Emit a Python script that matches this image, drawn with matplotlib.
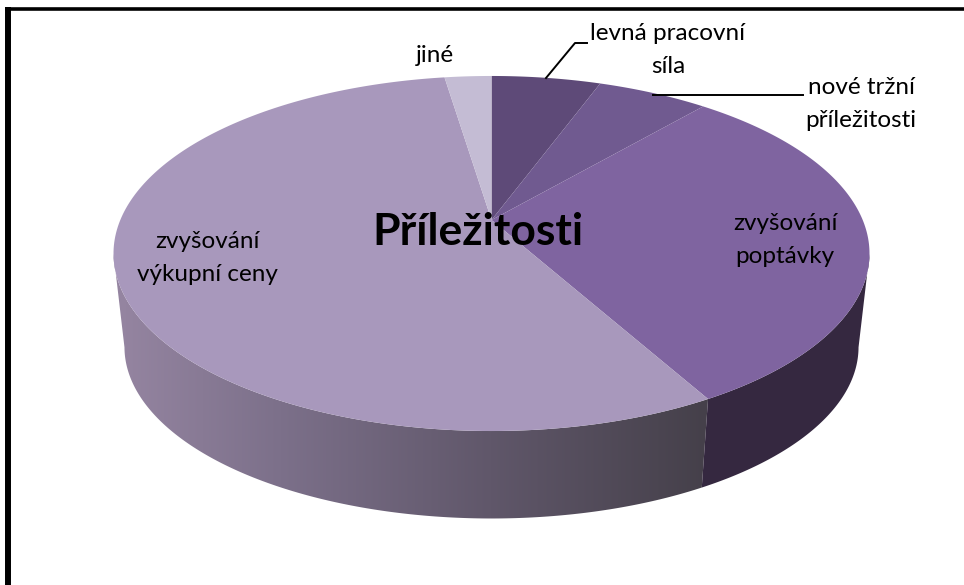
#!/usr/bin/python3

import numpy as np
import matplotlib
matplotlib.use('Agg')
import matplotlib.pyplot as plt
from matplotlib.patches import Polygon

plt.rcParams['font.family'] = ['Lato', 'DejaVu Sans']

# percent shares, clockwise from twelve o'clock
categories = ['levná pracovní\nsíla', 'nové tržní\npříležitosti', 'zvyšování\npoptávky',
              'zvyšování\nvýkupní ceny', 'jiné']
values = [5.6, 5.7, 30.6, 55.7, 2.4]
colors = ['#5e4a78', '#705a90', '#7f64a0', '#a898bc', '#c4bcd4']
title = 'Příležitosti'

# wall shading
wall_x = [125, 280, 490, 705]
wall_rgb = np.array([[0x94, 0x84, 0xa0], [0x7c, 0x70, 0x8a], [0x60, 0x57, 0x6a], [0x45, 0x40, 0x4a]]) / 255
dark_wall = '#352840'


def project(theta):
    """
    Top surface of the disc in perspective, theta in degrees clockwise from the top
    """
    t = np.radians(theta)
    X = np.sin(t)
    Y = -np.cos(t)
    w = 1 - 0.1887 * Y
    return 491.5 + 371.2 * X / w, 220 + 171.2 * Y / w


def project_low(theta):
    x, y = project(theta)
    return 491.5 + (x - 491.5) * 0.971, 347 + (y - 253.5) * 0.966


def wall_outline(a, b):
    ths = np.linspace(a, b, 200)
    x1, y1 = project(ths)
    x2, y2 = project_low(ths)
    return np.c_[np.r_[x2, x1[::-1]], np.r_[y2, y1[::-1]]]


fig = plt.figure(figsize=(9.64, 5.85), dpi=100)
ax = fig.add_axes([0, 0, 1, 1])

edges = np.concatenate([[0], np.cumsum(values)]) * 360 / np.sum(values)

# walls first, top surface goes over them
xs = np.arange(100, 720)
shade = np.stack([np.interp(xs, wall_x, wall_rgb[:, i]) for i in range(3)], axis=-1)[np.newaxis, :, :]
img = ax.imshow(shade, extent=[100, 720, 540, 200], aspect='auto', zorder=1)
clip = Polygon(wall_outline(edges[3], 259), closed=True, transform=ax.transData, fc='none', ec='none')
ax.add_patch(clip)
img.set_clip_path(clip)

ax.add_patch(Polygon(wall_outline(101, edges[3]), closed=True, fc=dark_wall, ec='none', zorder=1))

for i in range(len(values)):
    ths = np.linspace(edges[i], edges[i + 1], 200)
    x, y = project(ths)
    ax.fill(np.r_[491.5, x], np.r_[220, y], color=colors[i], lw=0, zorder=2)

# leader lines
ax.plot([546, 575, 587], [78, 43, 43], color='black', lw=1.4, zorder=3)
ax.plot([653, 803], [94.5, 94.5], color='black', lw=1.4, zorder=3)

ax.text(668, 50, categories[0], ha='center', va='center', fontsize=17.5, linespacing=1.75, zorder=4)
ax.text(861, 104, categories[1], ha='center', va='center', fontsize=17.5, linespacing=1.7, zorder=4)
ax.text(785, 240, categories[2], ha='center', va='center', fontsize=17.5, linespacing=1.7, zorder=4)
ax.text(207, 258, categories[3], ha='center', va='center', fontsize=17.5, linespacing=1.75, zorder=4)
ax.text(435, 55, categories[4], ha='center', va='center', fontsize=17.5, zorder=4)
ax.text(477.5, 232, title, ha='center', va='center', fontsize=32, fontweight='bold', zorder=4)

# black frame
ax.plot([8, 8], [585, 7], color='black', lw=4.3, solid_capstyle='butt', zorder=5)
ax.plot([5, 964], [8.5, 8.5], color='black', lw=2.6, solid_capstyle='butt', zorder=5)

ax.set_xlim(0, 964)
ax.set_ylim(585, 0)
ax.axis('off')

fig.savefig('out.png', dpi=100)
